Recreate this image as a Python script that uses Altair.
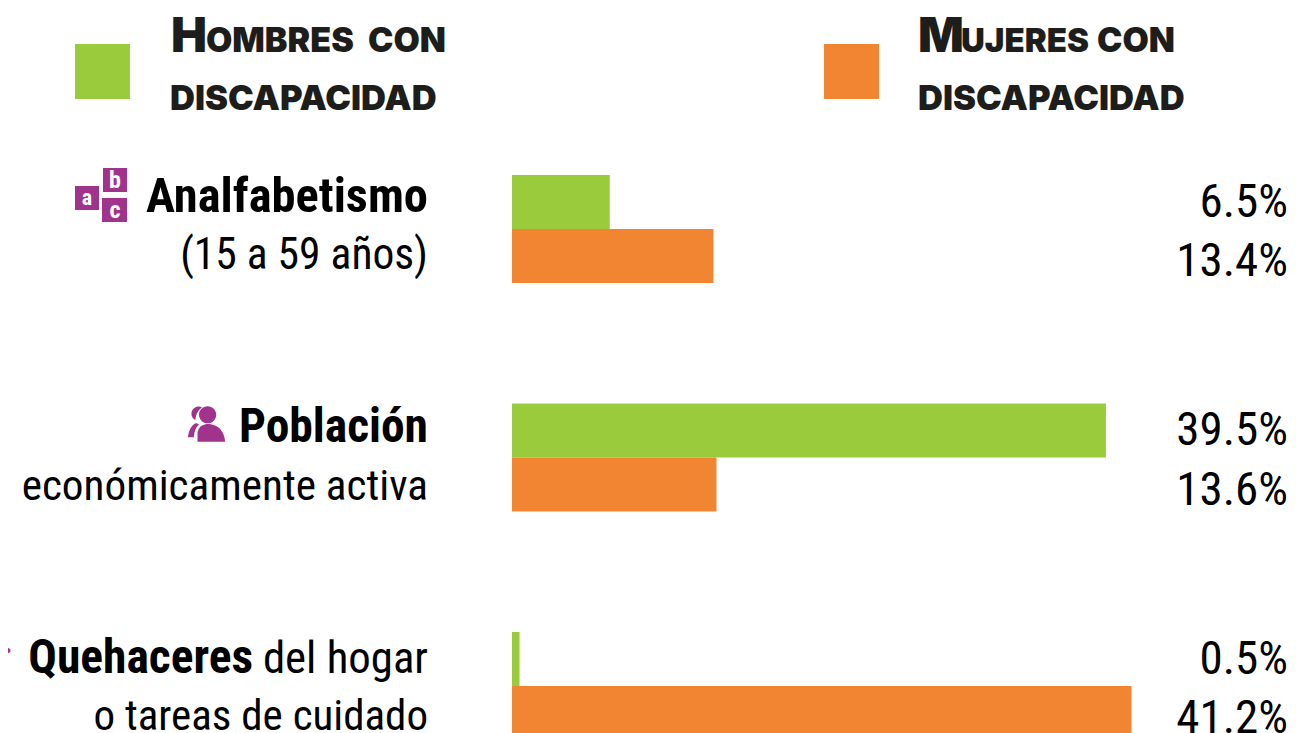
import altair as alt
import pandas as pd

categories = ["Analfabetismo", "Población", "Quehaceres"]
series = ["Hombres", "Mujeres"]
hombres = [6.5, 39.5, 0.5]
mujeres = [13.4, 13.6, 41.2]
colors = ["#9ACB3C", "#F28532"]
purple = "#A0338C"
dark = "#1D1D1B"
NARROW = "Roboto Condensed, Lato"
HEAD = "Inter"
OX = 8
OY = 8
LSIZE = 43.5
BSIZE = 47.5
PSIZE = 47

rows = []
for c, h, m in zip(categories, hombres, mujeres):
    rows.append({"cat": c, "s": "Hombres", "v": h, "label": f"{h}%"})
    rows.append({"cat": c, "s": "Mujeres", "v": m, "label": f"{m}%"})
df = pd.DataFrame(rows)

yscale = alt.Scale(domain=categories, range=[167, 732], paddingInner=0.527, paddingOuter=0)
xscale = alt.Scale(domain=[0, 41.2], range=[504, 1123.5])
Y = alt.Y("cat:N", scale=yscale, axis=None)
YO = alt.YOffset("s:N", scale=alt.Scale(domain=series, paddingInner=0, paddingOuter=0))

bars = alt.Chart(df).mark_bar(cornerRadius=0).encode(
    x=alt.X("v:Q", scale=xscale, axis=None),
    y=Y,
    yOffset=YO,
    color=alt.Color("s:N", scale=alt.Scale(domain=series, range=colors), legend=None),
)

pct_h = alt.Chart(df[df.s == "Hombres"]).mark_text(
    align="right", baseline="alphabetic", font=NARROW, fontSize=PSIZE, dy=15, color="#000"
).encode(x=alt.value(1280), y=Y, yOffset=YO, text="label:N")
pct_m = alt.Chart(df[df.s == "Mujeres"]).mark_text(
    align="right", baseline="alphabetic", font=NARROW, fontSize=PSIZE, dy=20, color="#000"
).encode(x=alt.value(1280), y=Y, yOffset=YO, text="label:N")


def txt(s, x, y, size, weight="normal", font=NARROW, color="#000", align="right"):
    return alt.Chart(pd.DataFrame({"t": [s]})).mark_text(
        align=align, baseline="alphabetic", font=font, fontSize=size, fontWeight=weight, color=color
    ).encode(x=alt.value(x - OX), y=alt.value(y - OY), text="t:N")


def box(x0, x1, y0, y1, color):
    return alt.Chart(pd.DataFrame({"a": [0]})).mark_rect(color=color).encode(
        x=alt.value(x0 - OX), x2=alt.value(x1 - OX), y=alt.value(y0 - OY), y2=alt.value(y1 - OY)
    )


PEOPLE = (
    "M0.26 -0.22A0.23 0.23 0 1 1 -0.2 -0.22A0.23 0.23 0 1 1 0.26 -0.22Z"
    "M-0.24 0.5L-0.24 0.25Q-0.2 0.06 0 0.03L0.08 0.03Q0.45 0.08 0.5 0.5Z"
    "M-0.12 -0.42A0.17 0.17 0 1 0 -0.3 -0.08Q-0.28 -0.3 -0.12 -0.42Z"
    "M-0.5 0.38Q-0.46 0.08 -0.28 0L-0.2 0.04Q-0.32 0.14 -0.34 0.38Z"
)
HOUSE = "M-0.3 0.5L-0.3 0L-0.1 0L-0.1 0.5ZM-0.55 0L0 -0.4L0.55 -0.02L0.55 0.06L0.45 0.12L0 -0.2L-0.42 0.1Z"


def icon(path, x, y, size, color=purple):
    return alt.Chart(pd.DataFrame({"a": [0]})).mark_point(
        shape=path, filled=True, size=size, color=color, opacity=1, strokeWidth=0
    ).encode(x=alt.value(x - OX), y=alt.value(y - OY))


layers = [
    box(75, 130, 44, 99, colors[0]),
    box(824, 879, 44, 99, colors[1]),
    txt("H", 171, 52, 48, 900, HEAD, dark, "left"),
    txt("OMBRES", 206, 52, 34, 900, HEAD, dark, "left"),
    txt("CON", 368, 52, 34, 900, HEAD, dark, "left"),
    txt("DISCAPACIDAD", 170, 110, 34.5, 900, HEAD, dark, "left"),
    txt("M", 918, 52, 48, 900, HEAD, dark, "left"),
    txt("UJERES", 961, 52, 33, 900, HEAD, dark, "left"),
    txt("CON", 1097, 52, 34, 900, HEAD, dark, "left"),
    txt("DISCAPACIDAD", 918, 110, 34.5, 900, HEAD, dark, "left"),
    box(75, 99, 186, 210, purple),
    box(103, 127, 168, 192, purple),
    box(102, 127, 198, 222, purple),
    txt("a", 87, 205, 22, "bold", NARROW, "#fff", "center"),
    txt("b", 115, 188, 24, "bold", NARROW, "#fff", "center"),
    txt("c", 115, 218, 24, "bold", NARROW, "#fff", "center"),
    icon(PEOPLE, 206.5, 423, 5600),
    icon(HOUSE, -7, 650, 4000),
    txt("Analfabetismo", 428, 212, 48.5, "bold"),
    txt("(15 a 59 años)", 428, 269, LSIZE),
    txt("Población", 428, 442, BSIZE, "bold"),
    txt("económicamente activa", 428, 500, 43.2),
    txt("Quehaceres", 253, 673, BSIZE, "bold"),
    txt("del hogar", 428, 673, 44.8),
    txt("o tareas de cuidado", 428, 730, 43),
    bars,
    pct_h,
    pct_m,
]

chart = alt.layer(*layers).properties(
    width=1280, height=725, padding=0,
    autosize=alt.AutoSizeParams(type="none"),
).configure_view(stroke=None)

chart.save("out.html", embed_options={"renderer": "svg", "actions": False})
